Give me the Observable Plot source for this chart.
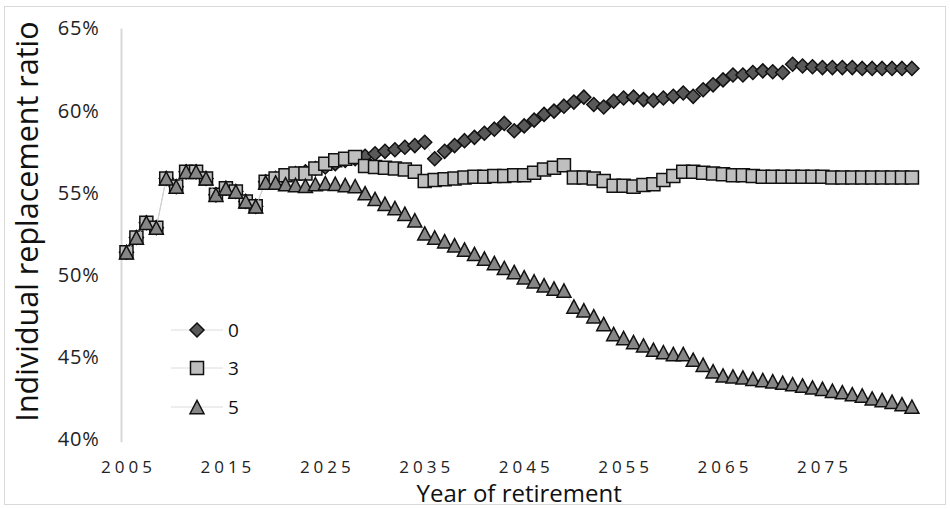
<!DOCTYPE html>
<html><head><meta charset="utf-8">
<script src="https://cdn.jsdelivr.net/npm/d3@7"></script>
<script src="https://cdn.jsdelivr.net/npm/@observablehq/plot@0.6"></script>
<style>
html,body{margin:0;padding:0;background:#fff;}
#wrap{position:relative;width:950px;height:509px;overflow:hidden;font-family:"Open Sans",sans-serif;}
#frame{position:absolute;left:4px;top:6px;width:942px;height:499px;border:1px solid #d9d9d9;box-sizing:border-box;pointer-events:none;}
#chart{position:absolute;left:0;top:0;}
#legend{position:absolute;left:0;top:0;pointer-events:none;}
g[aria-label="x-axis tick label"] text{letter-spacing:4px;}
g[aria-label="y-axis tick label"] text{letter-spacing:0.8px;}
</style></head>
<body><div id="wrap"><div id="frame"></div><div id="chart"></div><svg id="legend" width="950" height="509"></svg></div>
<script>
const years = [2005,2006,2007,2008,2009,2010,2011,2012,2013,2014,2015,2016,2017,2018,2019,2020,2021,2022,2023,2024,
  2025,2026,2027,2028,2029,2030,2031,2032,2033,2034,2035,2036,2037,2038,2039,2040,2041,2042,2043,2044,
  2045,2046,2047,2048,2049,2050,2051,2052,2053,2054,2055,2056,2057,2058,2059,2060,2061,2062,2063,2064,
  2065,2066,2067,2068,2069,2070,2071,2072,2073,2074,2075,2076,2077,2078,2079,2080,2081,2082,2083,2084];

// Series "0" (diamonds)
const series0 = [51.4,52.3,53.2,52.9,55.9,55.4,56.3,56.3,55.9,54.9,55.3,55.1,54.5,54.2,
  55.7,55.9,56.0,56.2,56.3,56.5,56.6,56.8,57.0,57.1,57.25,
  57.4,57.55,57.65,57.8,57.9,58.1,
  57.1,57.55,57.9,58.2,58.4,58.65,58.9,59.25,58.8,59.1,
  59.45,59.8,60.0,60.3,60.55,60.85,60.4,60.25,60.6,60.8,60.85,
  60.7,60.65,60.8,60.9,61.1,60.9,61.3,61.6,61.9,62.2,62.2,62.35,62.45,62.4,62.35,
  62.85,62.75,62.7,62.65,62.65,62.65,62.65,62.6,62.6,62.6,62.6,62.6,62.6];

// Series "3" (squares)
const series3 = [51.4,52.3,53.2,52.9,55.9,55.4,56.3,56.3,55.9,54.9,55.3,55.1,54.5,54.2,
  55.7,55.9,56.1,56.2,56.2,56.5,56.8,57.0,57.1,57.2,
  56.65,56.6,56.55,56.5,56.45,56.3,
  55.75,55.8,55.85,55.9,55.95,56.0,56.0,56.05,56.05,56.1,56.1,
  56.25,56.45,56.55,56.7,
  55.95,55.95,55.9,55.75,55.45,55.45,55.4,55.5,55.55,
  55.8,56.05,56.3,56.3,56.25,56.2,56.15,56.1,56.1,56.05,
  56.0,56.0,56.0,56.0,56.0,56.0,56.0,55.95,55.95,55.95,55.95,55.95,55.95,55.95,55.95,55.95];

// Series "5" (triangles)
const series5 = [51.4,52.3,53.2,52.9,55.9,55.4,56.3,56.3,55.9,54.9,55.3,55.1,54.5,54.2,
  55.65,55.65,55.55,55.5,55.45,55.55,55.6,55.57,55.5,55.43,
  55.0,54.65,54.35,54.1,53.75,53.35,
  52.55,52.3,52.07,51.83,51.57,51.3,51.02,50.75,50.45,50.2,49.88,49.63,49.39,49.19,49.07,48.1,
  47.87,47.5,47.03,46.42,46.18,45.93,45.73,45.47,45.32,45.2,45.2,44.86,44.55,44.15,43.9,43.84,
  43.78,43.7,43.62,43.54,43.46,43.37,43.29,43.17,43.09,42.97,42.88,42.76,42.68,42.5,42.4,42.3,42.15,42.0];

const seriesNames = ["0", "3", "5"];
const seriesFills = ["#595959", "#bfbfbf", "#868686"];
const xTicks = [2005, 2015, 2025, 2035, 2045, 2055, 2065, 2075];
const yTicks = [40, 45, 50, 55, 60, 65];
const xTitle = "Year of retirement";
const yTitle = "Individual replacement ratio";

// Marker shapes (Excel-like)
const diamond = {draw(c, size) { const r = Math.sqrt(size / Math.PI); c.moveTo(0, -r); c.lineTo(r, 0); c.lineTo(0, r); c.lineTo(-r, 0); c.closePath(); }};
const square = {draw(c, size) { const r = Math.sqrt(size / Math.PI) * 0.93; c.moveTo(-r, -r); c.lineTo(r, -r); c.lineTo(r, r); c.lineTo(-r, r); c.closePath(); }};
const triangle = {draw(c, size) { const r = Math.sqrt(size / Math.PI); c.moveTo(0, -0.95 * r); c.lineTo(r, 0.95 * r); c.lineTo(-r, 0.95 * r); c.closePath(); }};
const shapes = [diamond, square, triangle];

const allSeries = [series0, series3, series5];
const tables = allSeries.map((vals, i) => years.map((yr, j) => ({year: yr, value: vals[j], series: seriesNames[i]})));

const seriesMarks = tables.flatMap((t, i) => [
  Plot.line(t, {x: "year", y: "value", stroke: "#cfcfcf", strokeWidth: 0.8}),
  Plot.dot(t, {x: "year", y: "value", symbol: shapes[i], r: 7, fill: seriesFills[i], stroke: "#111", strokeWidth: 1.5})
]);

const chart = Plot.plot({
  width: 950,
  height: 509,
  marginLeft: 121,
  marginRight: 33.6,
  marginTop: 28.5,
  marginBottom: 70,
  style: {background: "transparent", color: "#222", fontFamily: "Open Sans, sans-serif", overflow: "visible"},
  x: {domain: [2004.5, 2084.5], axis: null},
  y: {domain: [40, 65], axis: null},
  marks: [
    Plot.ruleX([2004.5], {y1: 39.8, y2: 65, stroke: "#d9d9d9", strokeWidth: 2}),
    Plot.axisY({ticks: yTicks, tickSize: 0, tickPadding: 22, tickFormat: d => d + "%", fontSize: 20, label: null}),
    Plot.axisX({ticks: xTicks, tickSize: 0, tickPadding: 21, tickFormat: d => String(d), fontSize: 17, dx: 2, label: null}),
    Plot.text([xTitle], {frameAnchor: "bottom", dy: 62, lineAnchor: "bottom", fontSize: 24, fill: "#111"}),
    Plot.text([yTitle], {frameAnchor: "left", textAnchor: "middle", rotate: -90, dx: -84, dy: -12.75, lineAnchor: "bottom", fontSize: 30.5, fill: "#111"}),
    ...seriesMarks
  ]
});
document.getElementById("chart").appendChild(chart);

// Legend (inside plot area, lower left)
const leg = d3.select("#legend");
const legRows = [330, 368, 407];
seriesNames.forEach((name, i) => {
  const y = legRows[i];
  leg.append("line").attr("x1", 171).attr("x2", 223).attr("y1", y).attr("y2", y).attr("stroke", "#dcdcdc").attr("stroke-width", 1);
  leg.append("path").attr("transform", `translate(197,${y})`).attr("d", d3.symbol(shapes[i], Math.PI * 49)())
    .attr("fill", seriesFills[i]).attr("stroke", "#111").attr("stroke-width", 1.5);
  leg.append("text").attr("x", 228).attr("y", y).attr("dy", "0.36em").attr("font-size", 19).attr("fill", "#111")
    .attr("font-family", "Open Sans, sans-serif").text(name);
});
</script>
</body></html>
